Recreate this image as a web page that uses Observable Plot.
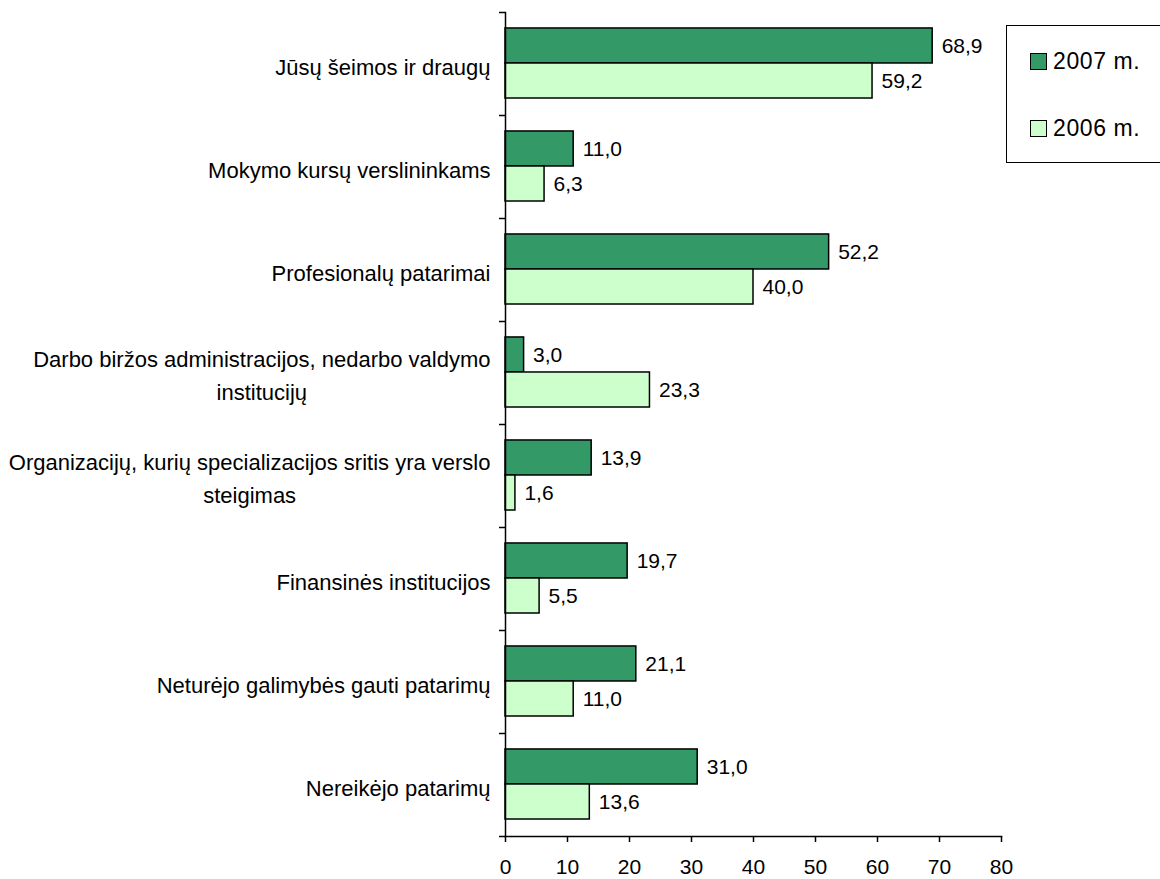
<!DOCTYPE html>
<html>
<head>
<meta charset="utf-8">
<script src="https://cdn.jsdelivr.net/npm/d3@7"></script>
<script src="https://cdn.jsdelivr.net/npm/@observablehq/plot@0.6"></script>
<style>
  body { margin: 0; background: #fff; font-family: "Liberation Sans", Arial, sans-serif; }
  #wrap { position: relative; width: 1160px; height: 879px; overflow: hidden; background: #fff; }
  #wrap svg { display: block; }
  #legend { position: absolute; left: 1006px; top: 25px; width: 200px; height: 138px;
            border: 1.5px solid #000; box-sizing: border-box; background: #fff; }
  .item { position: absolute; left: 23px; display: flex; align-items: center; height: 26px;
          font-size: 23px; color: #000; letter-spacing: 0.6px; }
  .sw { width: 17px; height: 17px; border: 1.5px solid #000; box-sizing: border-box; margin-right: 6px; }
</style>
</head>
<body>
<div id="wrap"></div>
<script>
// ---- data ----
const categories = [
  "Jūsų šeimos ir draugų",
  "Mokymo kursų verslininkams",
  "Profesionalų patarimai",
  "Darbo biržos administracijos, nedarbo valdymo institucijų",
  "Organizacijų, kurių specializacijos sritis yra verslo steigimas",
  "Finansinės institucijos",
  "Neturėjo galimybės gauti patarimų",
  "Nereikėjo patarimų"
];
const categoryLabels = [
  "Jūsų šeimos ir draugų",
  "Mokymo kursų verslininkams",
  "Profesionalų patarimai",
  "Darbo biržos administracijos, nedarbo valdymo\ninstitucijų",
  "Organizacijų, kurių specializacijos sritis yra verslo\nsteigimas",
  "Finansinės institucijos",
  "Neturėjo galimybės gauti patarimų",
  "Nereikėjo patarimų"
];
const seriesNames = ["2007 m.", "2006 m."];
const values2007 = [68.9, 11.0, 52.2, 3.0, 13.9, 19.7, 21.1, 31.0];
const values2006 = [59.2, 6.3, 40.0, 23.3, 1.6, 5.5, 11.0, 13.6];
const xTicks = [0, 10, 20, 30, 40, 50, 60, 70, 80];
const seriesColors = ["#339966", "#CCFFCC"];

// ---- build rows ----
const rows2007 = categories.map((c, i) => ({category: c, value: values2007[i]}));
const rows2006 = categories.map((c, i) => ({category: c, value: values2006[i]}));

// ---- layout ----
const W = 1160, H = 879;
const mL = 505, mR = 159, mT = 12, mB = 43;
const bw = (H - mT - mB) / categories.length;
const fontFam = "'Liberation Sans', Arial, sans-serif";
const fmt = v => v.toFixed(1).replace(".", ",");

// measure label widths: block right-aligned, wrapped lines centred under each other
const ctx = document.createElement("canvas").getContext("2d");
ctx.font = `22px ${fontFam}`;
const labelMarks = categories.map((c, i) => {
  const lines = categoryLabels[i].split("\n");
  const w = Math.max(...lines.map(l => ctx.measureText(l).width));
  return Plot.text([c], {
    y: d => d, text: () => categoryLabels[i], frameAnchor: "left",
    textAnchor: "middle", dx: -15 - w / 2, fontSize: 22, lineHeight: 1.5, fill: "#000"
  });
});

const plot = Plot.plot({
  width: W, height: H,
  marginLeft: mL, marginRight: mR, marginTop: mT, marginBottom: mB,
  style: {fontFamily: fontFam, fontSize: "21px", color: "#000", background: "#fff", overflow: "visible"},
  x: {domain: [0, 80], label: null},
  y: {domain: categories, padding: 0, axis: null},
  marks: [
    Plot.barX(rows2007, {x: "value", y: "category", fill: seriesColors[0], stroke: "#000", strokeWidth: 1.5,
      insetTop: bw * 0.155, insetBottom: bw * 0.505}),
    Plot.barX(rows2006, {x: "value", y: "category", fill: seriesColors[1], stroke: "#000", strokeWidth: 1.5,
      insetTop: bw * 0.495, insetBottom: bw * 0.165}),
    Plot.text(rows2007, {x: "value", y: "category", text: d => fmt(d.value), dx: 9, dy: -bw * 0.175,
      textAnchor: "start", fontSize: 21, fill: "#000"}),
    Plot.text(rows2006, {x: "value", y: "category", text: d => fmt(d.value), dx: 9, dy: bw * 0.165,
      textAnchor: "start", fontSize: 21, fill: "#000"}),
    Plot.frame({anchor: "left", stroke: "#000", strokeWidth: 1.5}),
    Plot.frame({anchor: "bottom", stroke: "#000", strokeWidth: 1.5}),
    Plot.ruleY(categories, {y: d => d, x1: 0, x2: 0, insetLeft: -6, dy: -bw / 2, stroke: "#000", strokeWidth: 1.5}),
    Plot.ruleY(categories.slice(-1), {y: d => d, x1: 0, x2: 0, insetLeft: -6, dy: bw / 2, stroke: "#000", strokeWidth: 1.5}),
    Plot.axisX({ticks: xTicks, tickFormat: d => String(d), tickSize: 6, tickPadding: 17, fontSize: 21,
      stroke: "#000", strokeWidth: 1.5, label: null}),
    ...labelMarks
  ]
});

const wrap = document.getElementById("wrap");
wrap.appendChild(plot);

// legend
const legend = document.createElement("div");
legend.id = "legend";
seriesNames.forEach((name, i) => {
  const item = document.createElement("div");
  item.className = "item";
  item.style.top = (i === 0 ? 22 : 89) + "px";
  const sw = document.createElement("div");
  sw.className = "sw";
  sw.style.background = seriesColors[i];
  item.appendChild(sw);
  item.appendChild(document.createTextNode(name));
  legend.appendChild(item);
});
wrap.appendChild(legend);
</script>
</body>
</html>
